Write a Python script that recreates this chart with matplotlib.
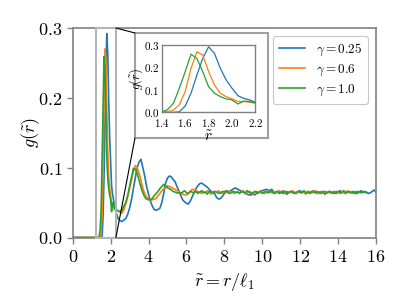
import numpy as np
import matplotlib
matplotlib.use("Agg")
import matplotlib.pyplot as plt
from matplotlib.patches import Rectangle, ConnectionPatch

plt.rcParams['mathtext.fontset'] = 'cm'
plt.rcParams['font.family'] = 'serif'
plt.rcParams['font.serif'] = ['DejaVu Serif']

# ---------------- data ----------------
labels = [r'$\gamma = 0.25$', r'$\gamma = 0.6$', r'$\gamma = 1.0$']
colors = ['#1f77b4', '#ff7f0e', '#2ca02c']

# fine grid 0 .. 2.2 (step 0.05)
r_head = np.round(np.arange(0, 2.2001, 0.05), 2)
zeros_head = [0.0] * 28  # r = 0 .. 1.35
blue_head = zeros_head + [0.0, 0.0, 0.0, 0.002, 0.028, 0.085, 0.166, 0.240, 0.292,
                          0.263, 0.196, 0.144, 0.107, 0.074, 0.062, 0.055, 0.045]
orange_head = zeros_head + [0.0, 0.003, 0.010, 0.033, 0.092, 0.196, 0.270, 0.256, 0.181,
                            0.122, 0.085, 0.070, 0.060, 0.048, 0.048, 0.045, 0.040]
green_head = zeros_head + [0.002, 0.012, 0.040, 0.107, 0.181, 0.259, 0.240, 0.181, 0.114,
                           0.085, 0.070, 0.060, 0.055, 0.037, 0.050, 0.048, 0.042]

# coarse grid from 2.3 on (step 0.1)
r_tail_start = 2.3
blue_tail = [0.035, 0.027, 0.024, 0.023, 0.025, 0.027, 0.033, 0.042, 0.054, 0.070,
             0.085, 0.100, 0.108, 0.112, 0.100, 0.088, 0.073, 0.062, 0.052, 0.045,
             0.040, 0.039, 0.040, 0.042, 0.050, 0.063, 0.078, 0.085, 0.088, 0.087,
             0.083, 0.080, 0.073, 0.067, 0.060, 0.054, 0.051, 0.049, 0.048, 0.052,
             0.058, 0.064, 0.070, 0.074, 0.077, 0.078, 0.076, 0.074, 0.072, 0.069,
             0.066, 0.064, 0.062, 0.057, 0.055, 0.056, 0.059, 0.063, 0.066, 0.066,
             0.067, 0.068, 0.070, 0.071, 0.069, 0.068, 0.066, 0.065, 0.063, 0.062,
             0.061, 0.061, 0.062, 0.061, 0.063, 0.064, 0.066, 0.067, 0.068, 0.069,
             0.068, 0.067, 0.069, 0.065,
             0.064, 0.066, 0.063, 0.065, 0.067, 0.064, 0.062, 0.065, 0.066, 0.064,
             0.065, 0.063, 0.066, 0.067, 0.064, 0.065, 0.063, 0.066, 0.065, 0.064,
             0.067, 0.065, 0.063, 0.064, 0.066, 0.065, 0.062, 0.064, 0.066, 0.065,
             0.064, 0.066, 0.063, 0.065, 0.067, 0.064, 0.065, 0.063, 0.066, 0.064,
             0.065, 0.066, 0.064, 0.063, 0.065, 0.067, 0.064, 0.066, 0.065, 0.063,
             0.064, 0.066, 0.068, 0.065]
orange_tail = [0.040, 0.038, 0.036, 0.035, 0.040, 0.048, 0.058, 0.070, 0.082, 0.094,
               0.103, 0.100, 0.092, 0.082, 0.070, 0.063, 0.058, 0.055, 0.053, 0.054,
               0.055, 0.056, 0.060, 0.063, 0.067, 0.070, 0.071, 0.074, 0.073, 0.072,
               0.070, 0.069, 0.067, 0.066, 0.064, 0.062, 0.061, 0.061, 0.063, 0.066,
               0.069, 0.068, 0.067, 0.066, 0.065,
               0.063, 0.066, 0.064, 0.067, 0.065, 0.062, 0.066, 0.064, 0.065, 0.067,
               0.064, 0.063, 0.066, 0.065, 0.064, 0.067, 0.065, 0.063, 0.065, 0.066,
               0.064, 0.065, 0.067, 0.063, 0.064, 0.066, 0.065, 0.062, 0.065, 0.066,
               0.064, 0.067, 0.065, 0.063, 0.064, 0.066, 0.065, 0.064, 0.066, 0.063,
               0.065, 0.067, 0.064, 0.065, 0.063, 0.066, 0.064, 0.065, 0.067, 0.064,
               0.063, 0.066, 0.065, 0.064, 0.066, 0.062, 0.065, 0.066, 0.064, 0.065,
               0.067, 0.064, 0.063, 0.065, 0.066, 0.064, 0.065, 0.066, 0.063, 0.065,
               0.064, 0.066, 0.065, 0.063, 0.066, 0.064, 0.065, 0.067, 0.064, 0.065,
               0.063, 0.066, 0.065]
green_tail = [0.040, 0.038, 0.037, 0.039, 0.045, 0.050, 0.060, 0.073, 0.086, 0.099,
              0.098, 0.092, 0.082, 0.072, 0.064, 0.058, 0.055, 0.054, 0.054, 0.056,
              0.060, 0.063, 0.066, 0.070, 0.073, 0.076, 0.074, 0.071, 0.070, 0.068,
              0.066, 0.065, 0.064, 0.064, 0.063,
              0.065, 0.067, 0.064, 0.063, 0.066, 0.065, 0.064, 0.066, 0.063, 0.065,
              0.067, 0.064, 0.065, 0.062, 0.066, 0.065, 0.064, 0.066, 0.065, 0.063,
              0.064, 0.066, 0.065, 0.067, 0.064, 0.063, 0.065, 0.066, 0.064, 0.065,
              0.063, 0.066, 0.065, 0.064, 0.067, 0.065, 0.063, 0.064, 0.066, 0.065,
              0.064, 0.066, 0.063, 0.065, 0.066, 0.064, 0.065, 0.067, 0.063, 0.065,
              0.066, 0.064, 0.065, 0.063, 0.066, 0.065, 0.064, 0.066, 0.065, 0.063,
              0.065, 0.066, 0.064, 0.065, 0.067, 0.064, 0.065, 0.063, 0.066, 0.065,
              0.064, 0.066, 0.065, 0.063, 0.065, 0.066, 0.064, 0.065, 0.066, 0.064,
              0.063, 0.065, 0.066, 0.064, 0.065, 0.067, 0.064, 0.065, 0.066, 0.064,
              0.065, 0.063, 0.066, 0.065, 0.064, 0.066, 0.065, 0.064]

heads = [blue_head, orange_head, green_head]
tails = [blue_tail, orange_tail, green_tail]

x_ticks = [0, 2, 4, 6, 8, 10, 12, 14, 16]
x_ticklabels = ['0', '2', '4', '6', '8', '10', '12', '14', '16']
y_ticks = [0.0, 0.1, 0.2, 0.3]
y_ticklabels = ['0.0', '0.1', '0.2', '0.3']
ix_ticks = [1.4, 1.6, 1.8, 2.0, 2.2]
ix_ticklabels = ['1.4', '1.6', '1.8', '2.0', '2.2']
iy_ticks = [0.0, 0.1, 0.2, 0.3]
iy_ticklabels = ['0.0', '0.1', '0.2', '0.3']

# ---------------- figure ----------------
W, H = 407, 306
fig = plt.figure(figsize=(W / 100, H / 100), dpi=100)

def fx(px):
    return px / W

def fy(py):
    return 1 - py / H

ax = fig.add_axes([fx(72.7), fy(237.5), fx(376) - fx(72.7), fy(28) - fy(237.5)])

for head, tail, c, lab in zip(heads, tails, colors, labels):
    x = np.concatenate([r_head, r_tail_start + 0.1 * np.arange(len(tail))])
    y = np.concatenate([head, tail])
    ax.plot(x, y, color=c, lw=1.2, label=lab)

ax.set_xlim(0, 16)
ax.set_ylim(0, 0.3)
ax.set_xticks(x_ticks, ['$%s$' % t for t in x_ticklabels])
ax.set_yticks(y_ticks, ['$%s$' % t for t in y_ticklabels])
ax.tick_params(labelsize=13, color='#808080', length=4, width=1)
for s in ax.spines.values():
    s.set_color('#808080')
    s.set_linewidth(1.2)
ax.set_xlabel(r'$\tilde{r} = r/\ell_1$', fontsize=13, labelpad=4)
ax.set_ylabel(r'$g(\tilde{r})$', fontsize=13, labelpad=-3)

leg = ax.legend(loc='upper right', fontsize=9.5, frameon=True, fancybox=True,
                framealpha=1.0, handlelength=2.0, borderpad=0.45,
                labelspacing=0.35, handletextpad=0.8, borderaxespad=0.6)
leg.get_frame().set_edgecolor('#c8c8c8')
leg.get_frame().set_linewidth(0.8)

# indicated region
ax.add_patch(Rectangle((1.23, 0), 2.28 - 1.23, 0.3, fill=False,
                       edgecolor='#b5b5b5', lw=1.5, zorder=5, clip_on=False))

# inset frame
frame = Rectangle((fx(135), fy(138)), fx(268) - fx(135), fy(33) - fy(138),
                  transform=fig.transFigure, facecolor='white', edgecolor='#a0a0a0',
                  lw=1.5, zorder=2)
fig.add_artist(frame)

for ya, py in [(0.3, 33), (0.0, 138)]:
    con = ConnectionPatch(xyA=(2.28, ya), coordsA=ax.transData,
                          xyB=(fx(135), fy(py)), coordsB=fig.transFigure,
                          color='black', lw=0.8, zorder=2.5)
    fig.add_artist(con)

axi = fig.add_axes([fx(161.7), fy(112.3), fx(255.5) - fx(161.7), fy(45) - fy(112.3)])
axi.set_zorder(3)
for head, c in zip(heads, colors):
    axi.plot(r_head, head, color=c, lw=0.9)
axi.set_xlim(1.4, 2.2)
axi.set_ylim(0, 0.3)
axi.set_xticks(ix_ticks, ['$%s$' % t for t in ix_ticklabels])
axi.set_yticks(iy_ticks, ['$%s$' % t for t in iy_ticklabels])
axi.tick_params(axis='x', labelsize=8, length=0, pad=3.5)
axi.tick_params(axis='y', labelsize=8, length=0, pad=1.5)
for s in axi.spines.values():
    s.set_color('#808080')
    s.set_linewidth(1.0)
axi.set_xlabel(r'$\tilde{r}$', fontsize=11, labelpad=0)
axi.set_ylabel(r'$g(\tilde{r})$', fontsize=9, labelpad=-1)

fig.savefig('out.png', dpi=100)
